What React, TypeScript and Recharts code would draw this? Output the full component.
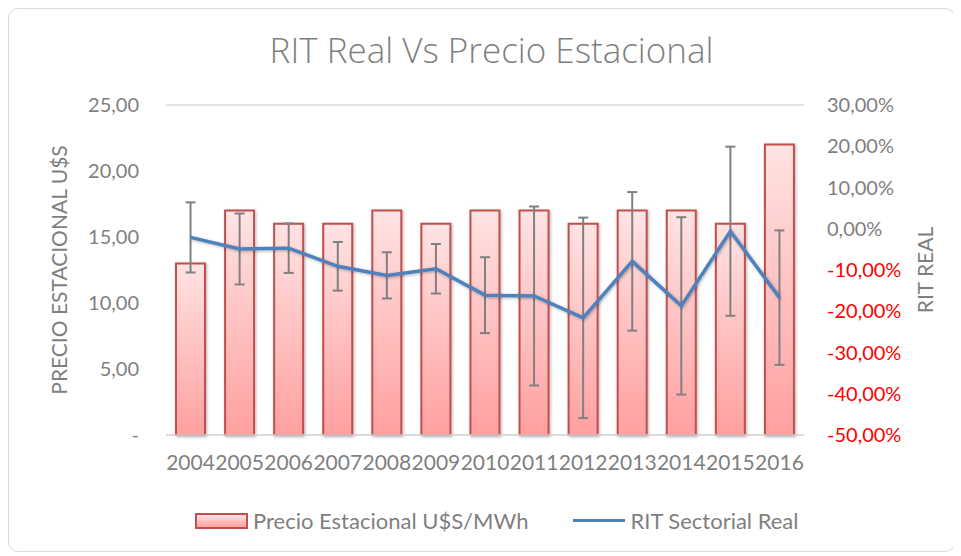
import React from "react";
import {
  ComposedChart,
  Bar,
  Line,
  XAxis,
  YAxis,
  CartesianGrid,
  ErrorBar,
} from "recharts";

const years = ["2004", "2005", "2006", "2007", "2008", "2009", "2010", "2011", "2012", "2013", "2014", "2015", "2016"];
const precioEstacional = [13, 17, 16, 16, 17, 16, 17, 17, 16, 17, 17, 16, 22];
const ritReal = [-2.1, -4.9, -4.7, -9.1, -11.3, -9.7, -16.1, -16.3, -21.6, -7.9, -18.7, -0.6, -16.7];
const ritError = [8.5, 8.6, 6.0, 5.9, 5.6, 6.0, 9.2, 21.7, 24.3, 16.8, 21.5, 20.5, 16.3];
const leftTicks = [0, 5, 10, 15, 20, 25];
const rightTicks = [-50, -40, -30, -20, -10, 0, 10, 20, 30];

const FONT = "Lato, 'Open Sans', sans-serif";
const GRAY = "#7F7F7F";

const data = years.map((year, i) => ({
  year,
  precio: precioEstacional[i],
  rit: ritReal[i],
  ritErr: ritError[i],
}));

const fmtLeft = (v: number) => (v === 0 ? "-" : v.toFixed(2).replace(".", ","));
const fmtRight = (v: number) => v.toFixed(2).replace(".", ",") + "%";

const RightTick = (props: any) => {
  const { x, y, payload } = props;
  const v = payload.value as number;
  return (
    <text x={x} y={y} dy={7} textAnchor="start" fill={v < 0 ? "#FF0000" : GRAY} fontSize={20} fontFamily={FONT}>
      {fmtRight(v)}
    </text>
  );
};

export default function App() {
  return (
    <div
      style={{
        position: "relative",
        width: 945,
        height: 542,
        border: "1px solid #D9D9D9",
        borderRadius: 10,
        background: "#fff",
        fontFamily: FONT,
      }}
    >
      <div
        style={{
          position: "absolute",
          top: 17,
          left: 10,
          width: "100%",
          textAlign: "center",
          fontSize: 35,
          fontWeight: 300,
          fontFamily: "'Open Sans', Lato, sans-serif",
          color: GRAY,
        }}
      >
        RIT Real Vs Precio Estacional
      </div>
      <ComposedChart
        width={945}
        height={542}
        data={data}
        margin={{ top: 96, right: 0, bottom: 76, left: 0 }}
      >
        <defs>
          <linearGradient id="barFill" x1="0" y1="0" x2="0" y2="1">
            <stop offset="0%" stopColor="#FFE3E3" />
            <stop offset="100%" stopColor="#FFA0A0" />
          </linearGradient>
          <filter id="shadow" x="-20%" y="-20%" width="140%" height="140%">
            <feDropShadow dx="1" dy="1" stdDeviation="1.5" floodColor="#000" floodOpacity="0.3" />
          </filter>
        </defs>
        <CartesianGrid vertical={false} stroke="#D9D9D9" strokeWidth={1.5} />
        <XAxis
          dataKey="year"
          interval={0}
          height={40}
          tickLine={false}
          axisLine={{ stroke: "#D9D9D9", strokeWidth: 1.5 }}
          tick={{ fill: GRAY, fontSize: 21, fontFamily: FONT }}
          tickMargin={14}
        />
        <YAxis
          yAxisId="left"
          width={157}
          domain={[0, 25]}
          ticks={leftTicks}
          tickFormatter={fmtLeft}
          axisLine={false}
          tickLine={false}
          tickSize={0}
          tickMargin={27}
          tick={{ fill: GRAY, fontSize: 20, fontFamily: FONT }}
          label={{
            value: "PRECIO ESTACIONAL U$S",
            angle: -90,
            position: "center",
            dx: -28,
            fill: GRAY,
            fontSize: 21,
            fontFamily: FONT,
          }}
        />
        <YAxis
          yAxisId="right"
          orientation="right"
          width={150}
          domain={[-50, 30]}
          ticks={rightTicks}
          allowDataOverflow
          axisLine={false}
          tickLine={false}
          tickSize={0}
          tickMargin={23}
          tick={<RightTick />}
          label={{
            value: "RIT REAL",
            angle: -90,
            position: "center",
            dx: 47,
            fill: GRAY,
            fontSize: 21,
            fontFamily: FONT,
          }}
        />
        <Bar
          yAxisId="left"
          dataKey="precio"
          barSize={29}
          fill="url(#barFill)"
          stroke="#C0504D"
          strokeWidth={2}
          filter="url(#shadow)"
          isAnimationActive={false}
        />
        <Line
          yAxisId="right"
          dataKey="rit"
          stroke="#4F81BD"
          strokeWidth={3.5}
          dot={false}
          filter="url(#shadow)"
          isAnimationActive={false}
        >
          <ErrorBar dataKey="ritErr" width={5} stroke="#808080" strokeWidth={2} direction="y" />
        </Line>
      </ComposedChart>
      <div
        style={{
          position: "absolute",
          top: 498,
          left: 186,
          display: "flex",
          alignItems: "center",
          fontSize: 22,
          color: GRAY,
          whiteSpace: "nowrap",
        }}
      >
        <span style={{ display: "inline-block", width: 49, height: 12, marginRight: 5, border: "2px solid #C0504D", background: "linear-gradient(#FFE3E3, #FFA0A0)" }} />
        <span>Precio Estacional U$S/MWh</span>
        <span style={{ display: "inline-block", width: 52, height: 3, background: "#4F81BD", marginLeft: 45, marginRight: 5 }} />
        <span>RIT Sectorial Real</span>
      </div>
    </div>
  );
}
